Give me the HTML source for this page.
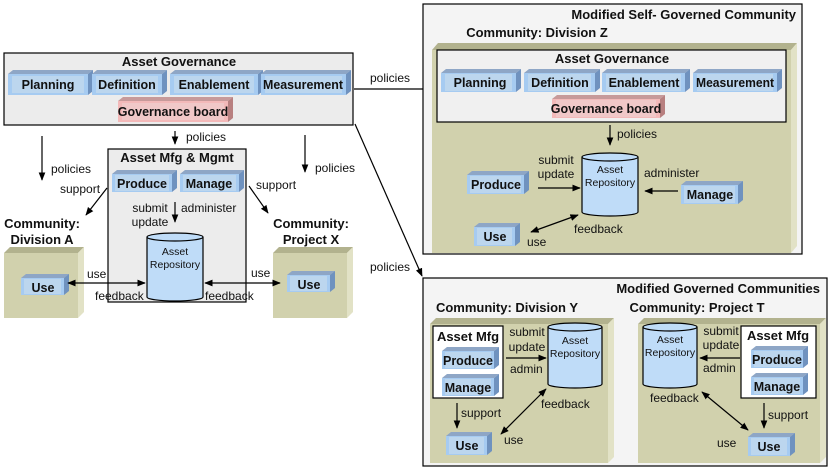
<!DOCTYPE html>
<html><head><meta charset="utf-8"><style>
html,body{margin:0;padding:0;background:#fff;}
svg{display:block;font-family:"Liberation Sans",Arial,sans-serif;}
.t{font-size:12px;fill:#111;}
.b{font-size:13px;font-weight:bold;fill:#111;}
.bl{font-size:12.5px;font-weight:bold;fill:#111;text-anchor:middle;}
.s{font-size:10.5px;fill:#111;text-anchor:middle;}
.top{fill:#8ea6c6;}
.rs{fill:#6f92bf;}
.face{fill:#a6cbf1;}
.in{fill:#bcd6ee;}
.ptop{fill:#c79a9a;}
.prs{fill:#b88080;}
.pface{fill:#f3b9b9;}
.pin{fill:#f0c8c8;}
.ln{stroke:#000;stroke-width:1.2;fill:none;}
</style></head><body>
<svg width="831" height="470" viewBox="0 0 831 470">
<defs>
<marker id="a" viewBox="0 0 10 10" refX="9" refY="5" markerWidth="7" markerHeight="7" orient="auto-start-reverse"><path d="M0,1 L10,5 L0,9 z" fill="#000"/></marker>
</defs>

<rect x="4" y="53" width="349" height="72" fill="#ececec" stroke="#000" stroke-width="1.2"/>
<text x="179" y="66" class="b" text-anchor="middle">Asset Governance</text>
<g><polygon class="top" points="8,74 13,70 93,70 88,74"/><polygon class="rs" points="88,74 93,70 93,91 88,95"/><rect class="face" x="8" y="74" width="80" height="21"/><rect class="in" x="12" y="76" width="72" height="17"/><text x="48" y="89" class="bl">Planning</text></g>
<g><polygon class="top" points="92,74 97,70 167,70 162,74"/><polygon class="rs" points="162,74 167,70 167,91 162,95"/><rect class="face" x="92" y="74" width="70" height="21"/><rect class="in" x="96" y="76" width="62" height="17"/><text x="127" y="89" class="bl">Definition</text></g>
<g><polygon class="top" points="170,74 175,70 263,70 258,74"/><polygon class="rs" points="258,74 263,70 263,91 258,95"/><rect class="face" x="170" y="74" width="88" height="21"/><rect class="in" x="174" y="76" width="80" height="17"/><text x="214" y="89" class="bl">Enablement</text></g>
<g><polygon class="top" points="261,74 266,70 351,70 346,74"/><polygon class="rs" points="346,74 351,70 351,91 346,95"/><rect class="face" x="261" y="74" width="85" height="21"/><rect class="in" x="265" y="76" width="77" height="17"/><text x="303" y="89" class="bl" textLength="80" lengthAdjust="spacingAndGlyphs">Measurement</text></g>
<g><polygon class="ptop" points="118,101 123,97 233,97 228,101"/><polygon class="prs" points="228,101 233,97 233,118 228,122"/><rect class="pface" x="118" y="101" width="110" height="21"/><rect class="pin" x="122" y="103" width="102" height="17"/><text x="173" y="116" class="bl">Governance board</text></g>

<line class="ln" x1="175" y1="131" x2="175" y2="144" marker-end="url(#a)"/>
<text x="186" y="141" class="t">policies</text>
<line class="ln" x1="42" y1="136" x2="42" y2="180" marker-end="url(#a)"/>
<text x="51" y="173" class="t">policies</text>
<line class="ln" x1="305" y1="135" x2="305" y2="172" marker-end="url(#a)"/>
<text x="315" y="172" class="t">policies</text>

<rect x="108" y="149" width="138" height="153" fill="#ececec" stroke="#000" stroke-width="1.2"/>
<text x="177" y="162" class="b" text-anchor="middle">Asset Mfg &amp; Mgmt</text>
<g><polygon class="top" points="112,174 117,170 177,170 172,174"/><polygon class="rs" points="172,174 177,170 177,188 172,192"/><rect class="face" x="112" y="174" width="60" height="18"/><rect class="in" x="115" y="175" width="54" height="16"/><text x="142" y="188" class="bl">Produce</text></g>
<g><polygon class="top" points="180,174 185,170 244,170 239,174"/><polygon class="rs" points="239,174 244,170 244,188 239,192"/><rect class="face" x="180" y="174" width="59" height="18"/><rect class="in" x="183" y="175" width="53" height="16"/><text x="209" y="188" class="bl">Manage</text></g>
<line class="ln" x1="175" y1="202" x2="175" y2="222" marker-end="url(#a)"/>
<text x="150" y="212" class="s" style="font-size:12px">submit</text>
<text x="150" y="226" class="s" style="font-size:12px">update</text>
<text x="181" y="212" class="t">administer</text>
<path d="M147,237 L147,297 A28,4 0 0 0 203,297 L203,237" fill="#bfdcf8" stroke="#000" stroke-width="1.2"/>
<ellipse cx="175" cy="237" rx="28" ry="4" fill="#bfdcf8" stroke="#000" stroke-width="1.2"/>
<text x="175" y="255" class="s">Asset</text>
<text x="175" y="268" class="s">Repository</text>

<line class="ln" x1="107" y1="188" x2="86" y2="215" marker-end="url(#a)"/>
<text x="60" y="193" class="t">support</text>
<line class="ln" x1="249" y1="186" x2="268" y2="213" marker-end="url(#a)"/>
<text x="256" y="189" class="t">support</text>

<text x="42" y="228" class="b" text-anchor="middle">Community:</text>
<text x="42" y="244" class="b" text-anchor="middle">Division A</text>
<text x="311" y="228" class="b" text-anchor="middle">Community:</text>
<text x="311" y="244" class="b" text-anchor="middle">Project X</text>

<polygon points="4,253 10,247 84,247 78,253" fill="#b2b28e"/>
<polygon points="78,253 84,247 84,312 78,318" fill="#e2e2c6"/>
<rect x="4" y="253" width="74" height="65" fill="#d1d1ad"/>
<polygon points="273,253 279,247 353,247 347,253" fill="#b2b28e"/>
<polygon points="347,253 353,247 353,312 347,318" fill="#e2e2c6"/>
<rect x="273" y="253" width="74" height="65" fill="#d1d1ad"/>
<g><polygon class="top" points="21,278 26,274 69,274 64,278"/><polygon class="rs" points="64,278 69,274 69,291 64,295"/><rect class="face" x="21" y="278" width="43" height="17"/><rect class="in" x="24" y="279" width="37" height="15"/><text x="43" y="292" class="bl">Use</text></g>
<g><polygon class="top" points="287,275 292,271 335,271 330,275"/><polygon class="rs" points="330,275 335,271 335,288 330,292"/><rect class="face" x="287" y="275" width="43" height="17"/><rect class="in" x="290" y="276" width="37" height="15"/><text x="309" y="289" class="bl">Use</text></g>
<line class="ln" x1="68" y1="283" x2="145" y2="283" marker-start="url(#a)" marker-end="url(#a)"/>
<text x="87" y="278" class="t">use</text>
<text x="95" y="300" class="t">feedback</text>
<line class="ln" x1="205" y1="283" x2="280" y2="283" marker-start="url(#a)" marker-end="url(#a)"/>
<text x="251" y="277" class="t">use</text>
<text x="205" y="300" class="t">feedback</text>

<line class="ln" x1="354" y1="89" x2="437" y2="89" marker-end="url(#a)"/>
<text x="370" y="82" class="t">policies</text>
<line class="ln" x1="355" y1="124" x2="422" y2="276" marker-end="url(#a)"/>
<text x="370" y="271" class="t">policies</text>

<rect x="423" y="4" width="379" height="250" fill="#f4f4f4" stroke="#000" stroke-width="1.2"/>
<text x="796" y="19" class="b" text-anchor="end">Modified Self- Governed Community</text>
<text x="537" y="37" class="b" text-anchor="middle">Community: Division Z</text>
<polygon points="432,50 438,43 797,43 791,50" fill="#b2b28e"/>
<polygon points="791,50 797,43 797,246 791,253" fill="#e2e2c6"/>
<rect x="432" y="50" width="359" height="203" fill="#d1d1ad"/>
<rect x="437" y="50" width="349" height="72" fill="#f0f0f0" stroke="#000" stroke-width="1.2"/>
<text x="612" y="63" class="b" text-anchor="middle">Asset Governance</text>
<g><polygon class="top" points="441,73 446,69 521,69 516,73"/><polygon class="rs" points="516,73 521,69 521,88 516,92"/><rect class="face" x="441" y="73" width="75" height="19"/><rect class="in" x="445" y="74" width="67" height="17"/><text x="480" y="87" class="bl">Planning</text></g>
<g><polygon class="top" points="524,73 529,69 600,69 595,73"/><polygon class="rs" points="595,73 600,69 600,88 595,92"/><rect class="face" x="524" y="73" width="71" height="19"/><rect class="in" x="528" y="74" width="63" height="17"/><text x="560" y="87" class="bl">Definition</text></g>
<g><polygon class="top" points="602,73 607,69 690,69 685,73"/><polygon class="rs" points="685,73 690,69 690,88 685,92"/><rect class="face" x="602" y="73" width="83" height="19"/><rect class="in" x="606" y="74" width="75" height="17"/><text x="644" y="87" class="bl">Enablement</text></g>
<g><polygon class="top" points="693,73 698,69 782,69 777,73"/><polygon class="rs" points="777,73 782,69 782,88 777,92"/><rect class="face" x="693" y="73" width="84" height="19"/><rect class="in" x="697" y="74" width="76" height="17"/><text x="735" y="87" class="bl" textLength="78" lengthAdjust="spacingAndGlyphs">Measurement</text></g>
<g><polygon class="ptop" points="552,99 557,95 665,95 660,99"/><polygon class="prs" points="660,99 665,95 665,114 660,118"/><rect class="pface" x="552" y="99" width="108" height="19"/><rect class="pin" x="556" y="100" width="100" height="17"/><text x="606" y="113" class="bl">Governance board</text></g>
<line class="ln" x1="610" y1="125" x2="610" y2="145" marker-end="url(#a)"/>
<text x="617" y="138" class="t">policies</text>
<path d="M582,157 L582,212 A28,4 0 0 0 638,212 L638,157" fill="#bfdcf8" stroke="#000" stroke-width="1.2"/>
<ellipse cx="610" cy="157" rx="28" ry="4" fill="#bfdcf8" stroke="#000" stroke-width="1.2"/>
<text x="610" y="173" class="s">Asset</text>
<text x="610" y="186" class="s">Repository</text>
<g><polygon class="top" points="467,175 472,171 529,171 524,175"/><polygon class="rs" points="524,175 529,171 529,190 524,194"/><rect class="face" x="467" y="175" width="57" height="19"/><rect class="in" x="470" y="176" width="51" height="17"/><text x="496" y="189" class="bl">Produce</text></g>
<text x="556" y="164" class="s" style="font-size:12px">submit</text>
<text x="556" y="178" class="s" style="font-size:12px">update</text>
<line class="ln" x1="538" y1="188" x2="580" y2="188" marker-end="url(#a)"/>
<text x="644" y="177" class="t">administer</text>
<g><polygon class="top" points="681,185 686,181 743,181 738,185"/><polygon class="rs" points="738,185 743,181 743,200 738,204"/><rect class="face" x="681" y="185" width="57" height="19"/><rect class="in" x="684" y="186" width="51" height="17"/><text x="710" y="199" class="bl">Manage</text></g>
<line class="ln" x1="678" y1="191" x2="645" y2="191" marker-end="url(#a)"/>
<g><polygon class="top" points="474,227 479,223 520,223 515,227"/><polygon class="rs" points="515,227 520,223 520,242 515,246"/><rect class="face" x="474" y="227" width="41" height="19"/><rect class="in" x="477" y="228" width="35" height="17"/><text x="495" y="241" class="bl">Use</text></g>
<line class="ln" x1="531" y1="232" x2="578" y2="215" marker-start="url(#a)" marker-end="url(#a)"/>
<text x="574" y="233" class="t">feedback</text>
<text x="527" y="246" class="t">use</text>

<rect x="423" y="278" width="404" height="188" fill="#f4f4f4" stroke="#000" stroke-width="1.2"/>
<text x="820" y="293" class="b" text-anchor="end">Modified Governed Communities</text>
<text x="507" y="312" class="b" text-anchor="middle">Community: Division Y</text>
<text x="697" y="312" class="b" text-anchor="middle">Community: Project T</text>
<polygon points="430,324 436,318 614,318 608,324" fill="#b2b28e"/>
<polygon points="608,324 614,318 614,457 608,463" fill="#e2e2c6"/>
<rect x="430" y="324" width="178" height="139" fill="#d1d1ad"/>
<polygon points="638,324 644,318 826,318 820,324" fill="#b2b28e"/>
<polygon points="820,324 826,318 826,457 820,463" fill="#e2e2c6"/>
<rect x="638" y="324" width="182" height="139" fill="#d1d1ad"/>

<rect x="433" y="326" width="70" height="72" fill="#fff" stroke="#000" stroke-width="1.2"/>
<text x="468" y="341" class="b" text-anchor="middle">Asset Mfg</text>
<g><polygon class="top" points="442,351 447,347 499,347 494,351"/><polygon class="rs" points="494,351 499,347 499,365 494,369"/><rect class="face" x="442" y="351" width="52" height="18"/><rect class="in" x="445" y="352" width="46" height="16"/><text x="468" y="365" class="bl">Produce</text></g>
<g><polygon class="top" points="442,378 447,374 499,374 494,378"/><polygon class="rs" points="494,378 499,374 499,392 494,396"/><rect class="face" x="442" y="378" width="52" height="18"/><rect class="in" x="445" y="379" width="46" height="16"/><text x="468" y="392" class="bl">Manage</text></g>
<path d="M548,327 L548,384 A27,4 0 0 0 602,384 L602,327" fill="#bfdcf8" stroke="#000" stroke-width="1.2"/>
<ellipse cx="575" cy="327" rx="27" ry="4" fill="#bfdcf8" stroke="#000" stroke-width="1.2"/>
<text x="575" y="344" class="s">Asset</text>
<text x="575" y="357" class="s">Repository</text>
<text x="527" y="336" class="s" style="font-size:12px">submit</text>
<text x="527" y="351" class="s" style="font-size:12px">update</text>
<line class="ln" x1="506" y1="358" x2="546" y2="358" marker-end="url(#a)"/>
<text x="510" y="373" class="t">admin</text>
<line class="ln" x1="457" y1="403" x2="457" y2="428" marker-end="url(#a)"/>
<text x="461" y="417" class="t">support</text>
<g><polygon class="top" points="446,436 451,432 492,432 487,436"/><polygon class="rs" points="487,436 492,432 492,451 487,455"/><rect class="face" x="446" y="436" width="41" height="19"/><rect class="in" x="449" y="437" width="35" height="17"/><text x="467" y="450" class="bl">Use</text></g>
<line class="ln" x1="501" y1="434" x2="546" y2="389" marker-start="url(#a)" marker-end="url(#a)"/>
<text x="541" y="408" class="t">feedback</text>
<text x="504" y="444" class="t">use</text>

<path d="M643,327 L643,384 A27,4 0 0 0 697,384 L697,327" fill="#bfdcf8" stroke="#000" stroke-width="1.2"/>
<ellipse cx="670" cy="327" rx="27" ry="4" fill="#bfdcf8" stroke="#000" stroke-width="1.2"/>
<text x="670" y="343" class="s">Asset</text>
<text x="670" y="356" class="s">Repository</text>
<rect x="741" y="326" width="75" height="72" fill="#fff" stroke="#000" stroke-width="1.2"/>
<text x="778" y="340" class="b" text-anchor="middle">Asset Mfg</text>
<g><polygon class="top" points="751,350 756,346 808,346 803,350"/><polygon class="rs" points="803,350 808,346 808,364 803,368"/><rect class="face" x="751" y="350" width="52" height="18"/><rect class="in" x="754" y="351" width="46" height="16"/><text x="777" y="364" class="bl">Produce</text></g>
<g><polygon class="top" points="751,377 756,373 808,373 803,377"/><polygon class="rs" points="803,377 808,373 808,391 803,395"/><rect class="face" x="751" y="377" width="52" height="18"/><rect class="in" x="754" y="378" width="46" height="16"/><text x="777" y="391" class="bl">Manage</text></g>
<text x="721" y="335" class="s" style="font-size:12px">submit</text>
<text x="721" y="349" class="s" style="font-size:12px">update</text>
<line class="ln" x1="740" y1="358" x2="700" y2="358" marker-end="url(#a)"/>
<text x="703" y="372" class="t">admin</text>
<text x="650" y="402" class="t">feedback</text>
<line class="ln" x1="764" y1="403" x2="764" y2="428" marker-end="url(#a)"/>
<text x="768" y="419" class="t">support</text>
<g><polygon class="top" points="748,437 753,433 795,433 790,437"/><polygon class="rs" points="790,437 795,433 795,452 790,456"/><rect class="face" x="748" y="437" width="42" height="19"/><rect class="in" x="751" y="438" width="36" height="17"/><text x="769" y="451" class="bl">Use</text></g>
<line class="ln" x1="702" y1="392" x2="748" y2="430" marker-start="url(#a)" marker-end="url(#a)"/>
<text x="717" y="447" class="t">use</text>
</svg>
</body></html>
